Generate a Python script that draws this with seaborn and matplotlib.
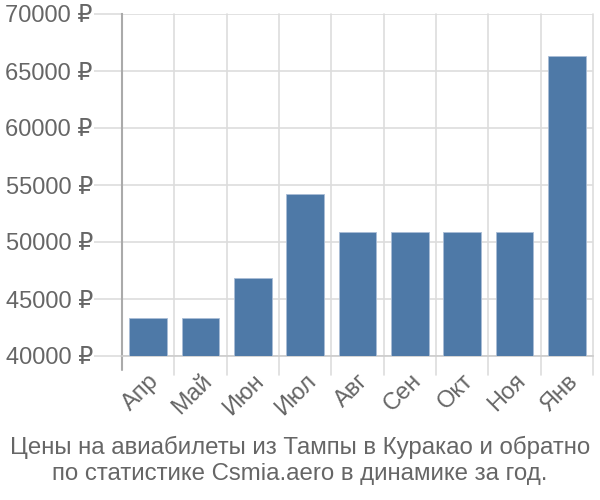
import matplotlib
matplotlib.use("Agg")
import matplotlib.pyplot as plt
import seaborn as sns
import pandas as pd

months = ["Апр", "Май", "Июн", "Июл", "Авг", "Сен", "Окт", "Ноя", "Янв"]
prices = [43300, 43300, 46800, 54200, 50850, 50850, 50850, 50850, 66350]
yticks = [40000, 45000, 50000, 55000, 60000, 65000, 70000]
title_lines = ["Цены на авиабилеты из Тампы в Куракао и обратно",
               "по статистике Csmia.aero в динамике за год."]

sns.set_theme(style="white")
plt.rcParams['font.family'] = ['Liberation Sans', 'DejaVu Sans']

df = pd.DataFrame({"month": months, "price": prices})

fig = plt.figure(figsize=(6, 5), dpi=100)
ax = fig.add_axes([122/600, 1-356/500, (593-122)/600, (356-14)/500])

sns.barplot(data=df, x="month", y="price", ax=ax, color="#4e79a7",
            saturation=1, width=0.72, edgecolor="#a9bdd6", linewidth=0.6, zorder=3)

ax.set_ylim(40000, 70000)
ax.set_xlim(-0.5, len(months) - 0.5)
ax.set_yticks(yticks)
ax.set_yticklabels([f"{v} ₽" for v in yticks])
ax.set_xlabel("")
ax.set_ylabel("")

grid_c = "#dddddd"
for v in yticks:
    ax.axhline(v, color=grid_c, lw=1.2, zorder=0)
for i in range(len(months)):
    ax.axvline(i + 0.5, color=grid_c, lw=1.2, zorder=0, ymin=-0.055, clip_on=False)

for s in ["top", "right"]:
    ax.spines[s].set_visible(False)
ax.spines["bottom"].set_color("#cccccc")
ax.spines["bottom"].set_linewidth(1.2)
ax.spines["left"].set_color("#aaaaaa")
ax.spines["left"].set_linewidth(1.5)
ax.spines["left"].set_bounds(40000, 70000)
ax.plot([0, 0], [-0.04, 0], transform=ax.transAxes, color="#aaaaaa", lw=1.5, clip_on=False)

ax.tick_params(axis="y", length=20, width=1.2, color=grid_c, labelsize=17, labelcolor="#666666", pad=1, left=True)
ax.tick_params(axis="x", length=0, labelsize=17, labelcolor="#666666", pad=10)
ax.set_xticks(range(len(months)))
ax.set_xticklabels(months, rotation=45, ha="right", rotation_mode="anchor")

fig.text(0.5, 1-447/500, title_lines[0], ha="center", va="center", fontsize=17.3, color="#666666")
fig.text(0.5, 1-474/500, title_lines[1], ha="center", va="center", fontsize=17.3, color="#666666")

fig.savefig("out.png", dpi=100)
